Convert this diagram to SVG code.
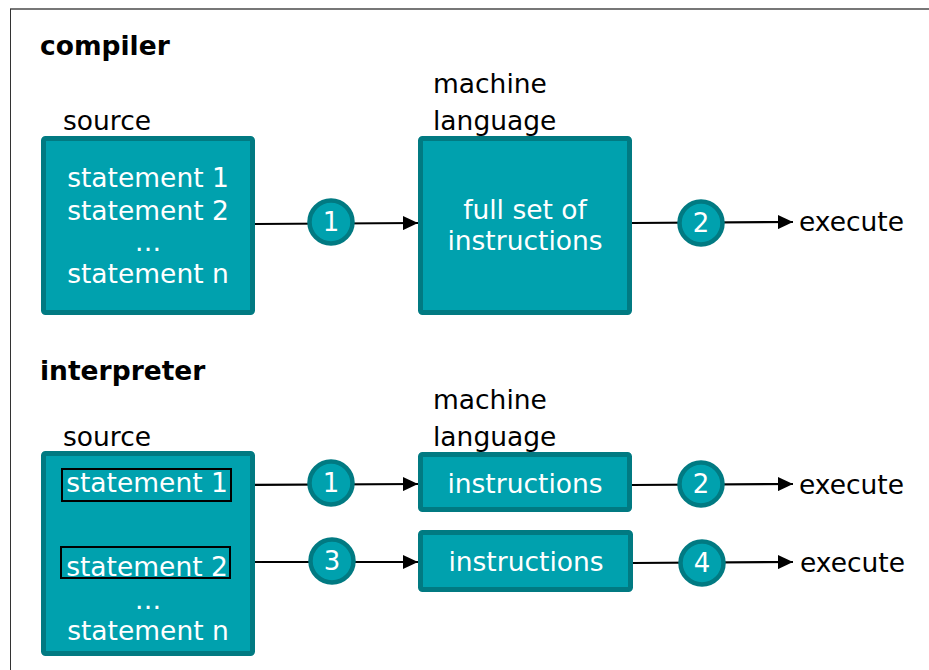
<svg xmlns="http://www.w3.org/2000/svg" width="929" height="670" viewBox="0 0 929 670">
<style>
text{font-family:"DejaVu Sans","Verdana",sans-serif;font-size:26.5px;}
.lbl{fill:#000;}
.hd{font-weight:bold;font-size:26.5px;}
.box{fill:#00A1AE;stroke:#017A82;stroke-width:5;}
.wt{fill:#fff;text-anchor:middle;}
.num{fill:#fff;text-anchor:middle;font-size:26px;}
.circ{fill:#00A1AE;stroke:#017A82;stroke-width:4.5;}
.con{stroke:#000;stroke-width:2.2;fill:none;}
.sel{fill:none;stroke:#000;stroke-width:2;}
</style>
<defs>
<marker id="ah" viewBox="0 0 15 14" refX="15" refY="7" markerWidth="15" markerHeight="14" markerUnits="userSpaceOnUse" orient="auto">
<path d="M0,0 L15,7 L0,14 z" fill="#000"/>
</marker>
</defs>
<rect width="929" height="670" fill="#fff"/>
<g id="frame">
<line x1="10" y1="9" x2="929" y2="9" stroke="#777" stroke-width="2"/>
<line x1="10.5" y1="9" x2="10.5" y2="670" stroke="#333" stroke-width="1"/>
</g>
<text class="lbl hd" x="40" y="55">compiler</text>
<text class="lbl hd" x="40" y="380">interpreter</text>

<g id="connectors">
<line class="con" x1="255" y1="224" x2="418" y2="223" marker-end="url(#ah)"/>
<line class="con" x1="632" y1="223" x2="793" y2="222" marker-end="url(#ah)"/>
<line class="con" x1="231" y1="485" x2="418" y2="484" marker-end="url(#ah)"/>
<line class="con" x1="632" y1="485" x2="793" y2="484" marker-end="url(#ah)"/>
<line class="con" x1="230" y1="562" x2="418" y2="562" marker-end="url(#ah)"/>
<line class="con" x1="632" y1="563" x2="793" y2="562" marker-end="url(#ah)"/>
</g>

<g id="c-source">
<text class="lbl" x="63" y="130">source</text>
<rect class="box" x="43.500" y="138.500" width="209" height="174" rx="2"/>
<text class="wt" x="148" y="187">statement 1</text>
<text class="wt" x="148" y="220">statement 2</text>
<text class="wt" x="148" y="251">…</text>
<text class="wt" x="148" y="283">statement n</text>
</g>

<g id="c-machine">
<text class="lbl" x="433" y="93">machine</text>
<text class="lbl" x="433" y="130">language</text>
<rect class="box" x="420.500" y="138.500" width="209" height="174" rx="2"/>
<text class="wt" x="525" y="219">full set of</text>
<text class="wt" x="525" y="250">instructions</text>
</g>

<g id="c-step1"><circle class="circ" cx="331" cy="222" r="21.5"/><text class="num" x="331" y="231">1</text></g>
<g id="c-step2"><circle class="circ" cx="701" cy="223" r="21.5"/><text class="num" x="701" y="232">2</text></g>
<text class="lbl" id="c-exec" x="799" y="231">execute</text>

<g id="i-source">
<text class="lbl" x="63" y="446">source</text>
<rect class="box" x="43.500" y="453.500" width="209" height="200" rx="2"/>
<text class="wt" x="147" y="492">statement 1</text>
<rect class="sel" x="62" y="469" width="169" height="32"/>
<text class="wt" x="147" y="576">statement 2</text>
<rect class="sel" x="61" y="547" width="169" height="31"/>
<text class="wt" x="148" y="609">…</text>
<text class="wt" x="148" y="640">statement n</text>
</g>

<g id="i-machine">
<text class="lbl" x="433" y="409">machine</text>
<text class="lbl" x="433" y="446">language</text>
</g>
<g id="i-instr1">
<rect class="box" x="420.500" y="454.500" width="209" height="55" rx="2"/>
<text class="wt" x="525" y="493">instructions</text>
</g>
<g id="i-instr2">
<rect class="box" x="420.500" y="532.500" width="210" height="57" rx="2"/>
<text class="wt" x="526" y="571">instructions</text>
</g>

<g id="i-step1"><circle class="circ" cx="331" cy="483" r="21.5"/><text class="num" x="331" y="492">1</text></g>
<g id="i-step3"><circle class="circ" cx="332" cy="561" r="21.5"/><text class="num" x="332" y="570">3</text></g>
<g id="i-step2"><circle class="circ" cx="701" cy="484" r="21.5"/><text class="num" x="701" y="493">2</text></g>
<g id="i-step4"><circle class="circ" cx="702" cy="563" r="21.5"/><text class="num" x="702" y="572">4</text></g>
<text class="lbl" id="i-exec1" x="799" y="494">execute</text>
<text class="lbl" id="i-exec2" x="800" y="572">execute</text>
</svg>
